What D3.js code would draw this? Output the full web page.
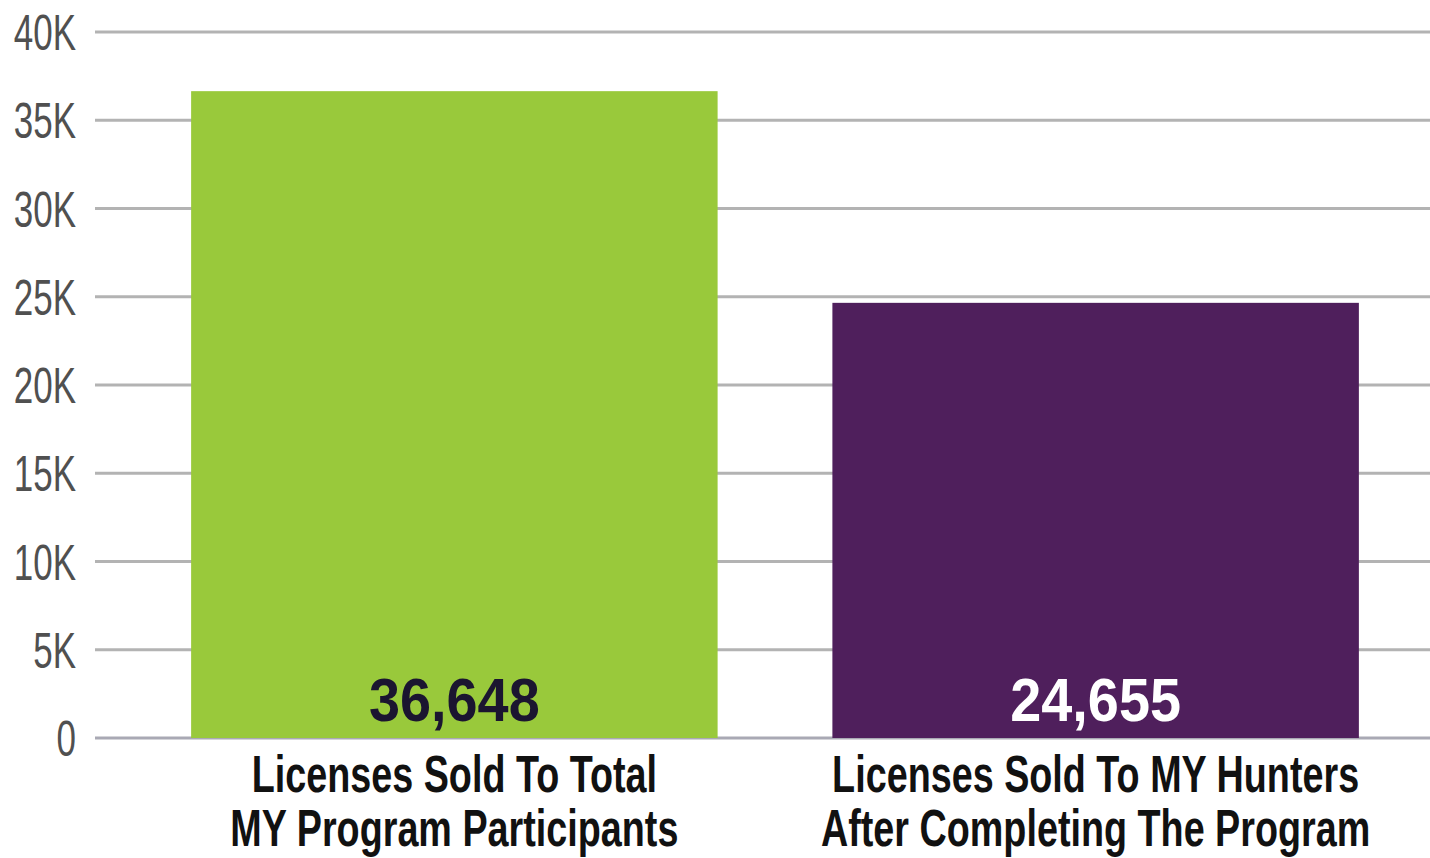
<!DOCTYPE html>
<html><head><meta charset="utf-8">
<script src="https://cdn.jsdelivr.net/npm/d3@7"></script>
<style>html,body{margin:0;padding:0;background:#fff;}svg{display:block;}</style>
</head><body>
<svg id="c" width="1430" height="858"></svg>
<script>
const categories = [
  ["Licenses Sold To Total", "MY Program Participants"],
  ["Licenses Sold To MY Hunters", "After Completing The Program"]
];
const values = [36648, 24655];
const valueLabels = ["36,648", "24,655"];
const tickValues = [0, 5000, 10000, 15000, 20000, 25000, 30000, 35000, 40000];
const tickLabels = ["0", "5K", "10K", "15K", "20K", "25K", "30K", "35K", "40K"];
const barColors = ["#99c93b", "#4f1f5c"];
const valueColors = ["#1b1530", "#ffffff"];

const svg = d3.select("#c");
const font = "'Liberation Sans', Arial, sans-serif";

const x = d3.scaleBand().domain(d3.range(values.length)).range([127, 1423]).paddingInner(0.179).paddingOuter(0.1);
const y = d3.scaleLinear().domain([0, 40000]).range([738, 32]);

// gridlines
svg.append("g").selectAll("line").data(tickValues).join("line")
  .attr("x1", 95).attr("x2", 1430)
  .attr("y1", d => y(d)).attr("y2", d => y(d))
  .attr("stroke", d => d === 0 ? "#a9a9b4" : "#b3b3b3").attr("stroke-width", 3);

// tick labels
svg.append("g").selectAll("text").data(tickValues).join("text")
  .attr("transform", d => `translate(76,${y(d) + 18}) scale(0.7,1)`)
  .attr("text-anchor", "end")
  .attr("font-family", font).attr("font-size", 50)
  .attr("fill", "#505050")
  .text((d, i) => tickLabels[i]);

// bars
svg.append("g").selectAll("rect").data(values).join("rect")
  .attr("x", (d, i) => x(i)).attr("width", x.bandwidth())
  .attr("y", d => y(d)).attr("height", d => y(0) - y(d))
  .attr("fill", (d, i) => barColors[i]);

// value labels
svg.append("g").selectAll("text").data(values).join("text")
  .attr("transform", (d, i) => `translate(${x(i) + x.bandwidth() / 2},721) scale(0.9,1)`)
  .attr("text-anchor", "middle")
  .attr("font-family", font).attr("font-size", 62).attr("font-weight", "bold")
  .attr("fill", (d, i) => valueColors[i])
  .text((d, i) => valueLabels[i]);

// category labels
const cg = svg.append("g").selectAll("g").data(categories).join("g")
  .attr("transform", (d, i) => `translate(${x(i) + x.bandwidth() / 2},0)`);
cg.selectAll("text").data(d => d).join("text")
  .attr("transform", (d, j) => `translate(0,${792 + j * 54}) scale(0.74,1)`)
  .attr("text-anchor", "middle")
  .attr("font-family", font).attr("font-size", 51).attr("font-weight", "bold")
  .attr("fill", "#111")
  .text(d => d);
</script>
</body></html>
